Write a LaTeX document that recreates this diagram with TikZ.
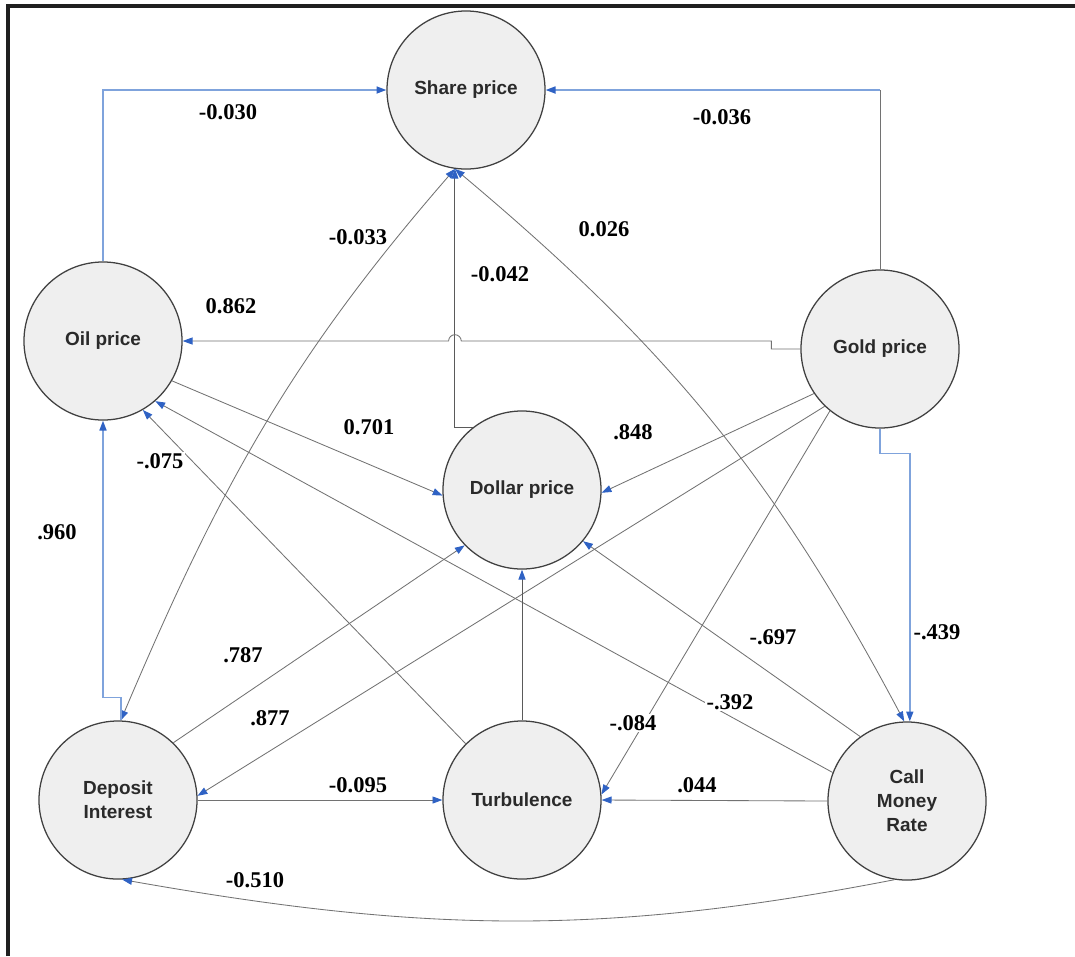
\documentclass[tikz,border=0pt]{standalone}
\usepackage{fontspec}
\setmainfont{Liberation Serif}
\newfontfamily\nodefont{Liberation Sans}
\usetikzlibrary{arrows.meta}
\definecolor{arrowblue}{HTML}{2F62C4}
\definecolor{lineblue}{HTML}{7FA3DC}
\definecolor{linegray}{HTML}{727272}
\definecolor{linedark}{HTML}{5A5A5A}
\definecolor{nodefill}{HTML}{EFEFEF}
\definecolor{nodetext}{HTML}{2A2A2A}
\definecolor{framecol}{HTML}{202020}
\tikzset{
  var/.style={circle, draw=black!75, line width=0.9pt, fill=nodefill, minimum size=3.95cm,
    inner sep=0pt, font=\nodefont\fontsize{13.5}{17}\selectfont\bfseries, text=nodetext, align=center},
  grayln/.style={draw=linegray, line width=0.6pt},
  blueln/.style={draw=lineblue, line width=1.1pt},
  darkln/.style={draw=linedark, line width=0.7pt},
  arr/.style={-{Triangle[length=7pt,width=5pt,color=arrowblue]}},
  arrboth/.style={{Triangle[length=7pt,width=5pt,color=arrowblue]}-{Triangle[length=7pt,width=5pt,color=arrowblue]}},
  lbl/.style={font=\fontsize{16}{18}\selectfont\bfseries, fill=white, inner sep=1pt},
}
\begin{document}
\begin{tikzpicture}[x=0.025cm,y=0.025cm]
\useasboundingbox (0,0) rectangle (1075,-956);
% frame
\draw[framecol, line width=2.6pt] (8,-956) coordinate (fA) -- (8,-6) coordinate (fB) -- (1075,-6) coordinate (fC);
% nodes
\node[var] (share) at (466,-90) {Share price};
\node[var] (oil) at (103,-341) {Oil price};
\node[var] (gold) at (880,-349) {Gold price};
\node[var] (dollar) at (522,-490) {Dollar price};
\node[var] (deposit) at (118,-800) {Deposit\\Interest};
\node[var] (turb) at (522,-800) {Turbulence};
\node[var] (cmr) at (907,-801) {Call\\Money\\Rate};
% connectors
\draw[blueln,arr] (oil.north) |- (share.west);
\coordinate (gcorner) at (gold.north |- share.east);
\draw[grayln] (gold.north) -- (gcorner);
\draw[blueln,arr] (gcorner) -- (share.east);
\coordinate (dcorner) at (share.262 |- dollar.128);
\draw[darkln,arr] (dollar.128) -- (dcorner) -- (share.262);
\draw[grayln,arrboth] (share.262) to[out=229,in=67] (deposit.88);
\draw[grayln,arrboth] (share.262) to[out=-40,in=118] (cmr.92);
\draw[blueln,arr] (deposit.88) -- ++(0,23) -| (oil.south);
\coordinate (hopC) at (dcorner |- oil.east);
\draw[grayln,arr] (gold.west) -- ++(-29,0) |- ([xshift=4.5pt]hopC) arc[start angle=0,end angle=180,radius=4.5pt] -- (oil.east);
\draw[grayln,arr] (oil.-30) -- (dollar.184);
\draw[grayln,arr] (gold.214) -- (dollar.-2);
\draw[grayln,arr] (gold.226) -- (deposit.3);
\draw[grayln,arr] (gold.231) -- (turb.4);
\draw[blueln,arr] (gold.south) -- ++(0,-25) -| (cmr.88);
\draw[grayln,arr] (cmr.126) -- (dollar.-40);
\draw[grayln,arr] (cmr.159) -- (oil.-49);
\draw[grayln,arr] (turb.135) -- (oil.-60);
\draw[grayln,arr] (deposit.46) -- (dollar.224);
\draw[darkln,arr] (turb.north) -- (dollar.south);
\draw[grayln,arr] (deposit.east) -- (turb.west);
\draw[grayln,arr] (cmr.west) -- (turb.east);
\draw[grayln,arr] (cmr.261) to[out=191,in=-10] (deposit.273);
% labels
\node[lbl] (l1) at (228,-112) {-0.030};
\node[lbl] (l2) at (722,-117) {-0.036};
\node[lbl] (l3) at (358,-237) {-0.033};
\node[lbl] (l4) at (604,-229) {0.026};
\node[lbl] (l5) at (500,-274) {-0.042};
\node[lbl] (l6) at (231,-306) {0.862};
\node[lbl] (l7) at (369,-427) {0.701};
\node[lbl] (l8) at (633,-432) {.848};
\node[lbl] (l9) at (160,-461) {-.075};
\node[lbl] (l10) at (57,-532) {.960};
\node[lbl] (l11) at (243,-655) {.787};
\node[lbl] (l12) at (270,-718) {.877};
\node[lbl] (l13) at (358,-785) {-0.095};
\node[lbl] (l14) at (255,-880) {-0.510};
\node[lbl] (l15) at (773,-637) {-.697};
\node[lbl] (l16) at (937,-632) {-.439};
\node[lbl] (l17) at (730,-702) {-.392};
\node[lbl] (l18) at (633,-723) {-.084};
\node[lbl] (l19) at (697,-785) {.044};
\end{tikzpicture}
\end{document}
